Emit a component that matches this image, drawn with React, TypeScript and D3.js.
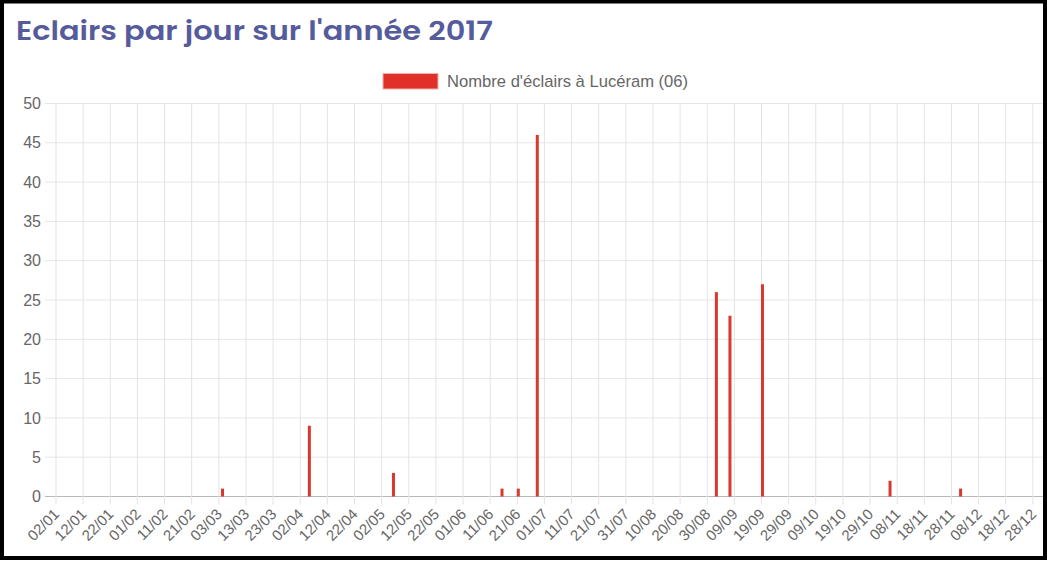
import React, { useEffect, useRef } from "react";
import * as d3 from "d3";

// days with lightning in 2017 (dd/mm) and their counts, every other day is 0
const stormDays = ["04/03", "05/04", "06/05", "15/06", "21/06", "28/06", "02/09", "07/09", "19/09", "05/11", "01/12"];
const stormCounts = [1, 9, 3, 1, 1, 46, 26, 23, 27, 2, 1];

// labels shown on the x axis (one every 10 days)
const xTickLabels = [
  "02/01", "12/01", "22/01", "01/02", "11/02", "21/02", "03/03", "13/03", "23/03",
  "02/04", "12/04", "22/04", "02/05", "12/05", "22/05", "01/06", "11/06", "21/06",
  "01/07", "11/07", "21/07", "31/07", "10/08", "20/08", "30/08", "09/09", "19/09",
  "29/09", "09/10", "19/10", "29/10", "08/11", "18/11", "28/11", "08/12", "18/12", "28/12",
];
const yTicks = [0, 5, 10, 15, 20, 25, 30, 35, 40, 45, 50];

const firstDay = "02/01";
const lastDay = "31/12";
const title = "Eclairs par jour sur l'année 2017";
const seriesName = "Nombre d'éclairs à Lucéram (06)";

const parse = (s: string) => d3.timeParse("%d/%m/%Y")(s + "/2017") as Date;

export default function App() {
  const ref = useRef<SVGSVGElement>(null);

  useEffect(() => {
    if (!ref.current) return;
    const W = 1047, H = 561;
    const svg = d3.select(ref.current);
    svg.selectAll("*").remove();

    const left = 56, right = 1041, top = 103.5, bottom = 496.5;
    const x = d3.scaleTime().domain([parse(firstDay), parse(lastDay)]).range([left, right]);
    const y = d3.scaleLinear().domain([0, 50]).range([bottom, top]);

    // every day of the period, 0 unless a storm day
    const counts = new Map(stormDays.map((d, i) => [d, stormCounts[i]]));
    const days = d3.timeDay.range(parse(firstDay), d3.timeDay.offset(parse(lastDay), 1));
    const fmt = d3.timeFormat("%d/%m");
    const data = days.map((d) => ({ date: d, value: counts.get(fmt(d)) ?? 0 }));

    svg.append("rect").attr("width", W).attr("height", H).attr("fill", "#fff");

    // title
    svg
      .append("text")
      .attr("x", 16)
      .attr("y", 40)
      .attr("font-family", "Poppins, 'Open Sans', sans-serif")
      .attr("font-weight", 600)
      .attr("font-size", 27)
      .attr("fill", "#555b9b")
      .attr("textLength", 477)
      .attr("lengthAdjust", "spacingAndGlyphs")
      .text(title);

    // legend
    svg
      .append("rect")
      .attr("x", 383)
      .attr("y", 73.5)
      .attr("width", 55)
      .attr("height", 15.5)
      .attr("fill", "#e1302a")
      .attr("stroke", "#f3b0aa")
      .attr("stroke-width", 1);
    svg
      .append("text")
      .attr("x", 447)
      .attr("y", 87)
      .attr("font-family", "'Liberation Sans', Arial, sans-serif")
      .attr("font-size", 16.6)
      .attr("fill", "#666")
      .text(seriesName);

    // horizontal grid + y labels
    const gy = svg.append("g");
    gy.selectAll("line")
      .data(yTicks)
      .enter()
      .append("line")
      .attr("x1", 45)
      .attr("x2", right + 2)
      .attr("y1", (d) => y(d))
      .attr("y2", (d) => y(d))
      .attr("stroke", (d) => (d === 0 ? "#b8b8b8" : "#e6e6e6"))
      .attr("stroke-width", 1);
    gy.selectAll("text")
      .data(yTicks)
      .enter()
      .append("text")
      .attr("x", 41)
      .attr("y", (d) => y(d))
      .attr("dy", "0.35em")
      .attr("text-anchor", "end")
      .attr("font-family", "'Liberation Sans', Arial, sans-serif")
      .attr("font-size", 16)
      .attr("fill", "#666")
      .text((d) => d);

    // vertical grid + x labels
    const gx = svg.append("g");
    gx.selectAll("line")
      .data(xTickLabels)
      .enter()
      .append("line")
      .attr("x1", (d) => x(parse(d)))
      .attr("x2", (d) => x(parse(d)))
      .attr("y1", top)
      .attr("y2", bottom + 8)
      .attr("stroke", "#e3e3e3")
      .attr("stroke-width", 1);
    gx.selectAll("text")
      .data(xTickLabels)
      .enter()
      .append("text")
      .attr("transform", (d) => `translate(${x(parse(d)) + 0.5},${bottom + 15}) rotate(-45)`)
      .attr("text-anchor", "end")
      .attr("dy", "0.35em")
      .attr("font-family", "'Liberation Sans', Arial, sans-serif")
      .attr("font-size", 15)
      .attr("fill", "#666")
      .text((d) => d);

    // bars
    svg
      .append("g")
      .selectAll("rect")
      .data(data.filter((d) => d.value > 0))
      .enter()
      .append("rect")
      .attr("x", (d) => x(d.date) - 0.5)
      .attr("width", 3)
      .attr("y", (d) => y(d.value))
      .attr("height", (d) => y(0) - y(d.value))
      .attr("fill", "#d8392c");

    // frame
    svg
      .append("rect")
      .attr("x", 2)
      .attr("y", 1.5)
      .attr("width", W - 4)
      .attr("height", H - 4.5)
      .attr("fill", "none")
      .attr("stroke", "#000")
      .attr("stroke-width", 4);
  }, []);

  return (
    <svg
      ref={ref}
      width={1047}
      height={561}
      style={{ position: "absolute", left: 0, top: 0 }}
    />
  );
}
